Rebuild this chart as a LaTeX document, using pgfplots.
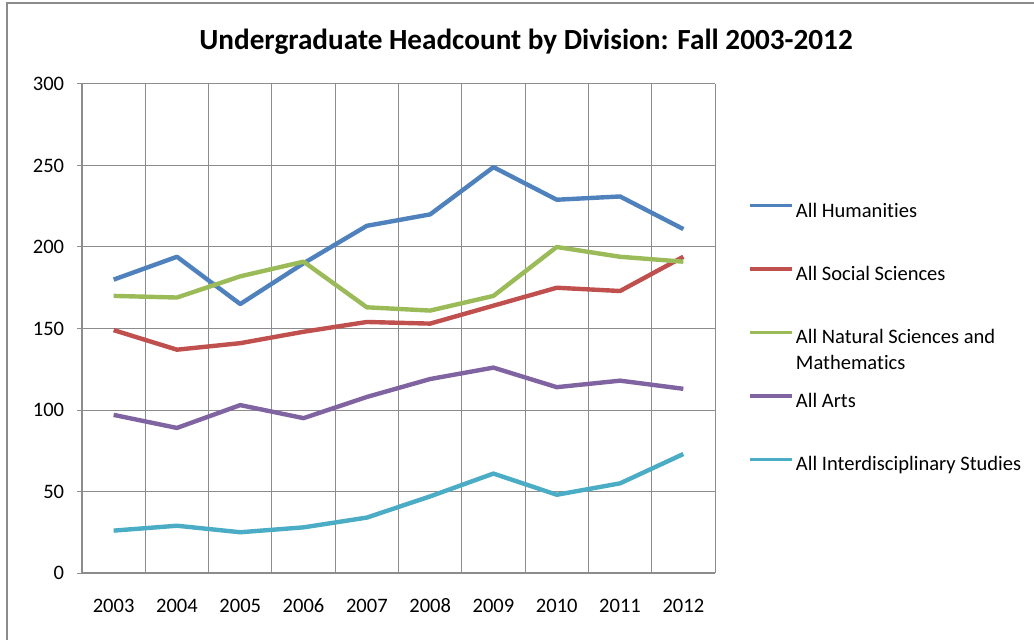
\documentclass[border=0pt]{standalone}
\usepackage{fontspec}
\setmainfont{Carlito}
\usepackage{pgfplots}
\pgfplotsset{compat=1.18}
\definecolor{cHum}{HTML}{4F81BD}
\definecolor{cSoc}{HTML}{C0504D}
\definecolor{cNat}{HTML}{9BBB59}
\definecolor{cArt}{HTML}{8064A2}
\definecolor{cInt}{HTML}{4BACC6}
\definecolor{gridc}{HTML}{8C8C8C}
\begin{document}
\begin{tikzpicture}
\useasboundingbox (0,0) rectangle (775.5pt,479.25pt);
\draw[gridc, line width=1.2pt] (5.25pt,-10pt) -- (5.25pt,477pt) -- (790pt,477pt);
\node[font=\fontsize{21.9}{25}\selectfont\bfseries, anchor=base] at (394.5pt,441.75pt) {Undergraduate Headcount by Division: Fall 2003-2012};
\begin{axis}[
  at={(61.5pt,49.5pt)}, anchor=south west,
  scale only axis, width=474.75pt, height=366.75pt,
  xmin=-0.5, xmax=9.5, ymin=0, ymax=300,
  xtick={0,...,9},
  xticklabels={2003,2004,2005,2006,2007,2008,2009,2010,2011,2012},
  minor xtick={-0.5,0.5,...,9.5},
  ytick={0,50,...,300},
  axis lines=left, axis line style={-, gridc, line width=1pt},
  xmajorgrids=false, xminorgrids=true, ymajorgrids=true,
  grid style={gridc, line width=0.75pt},
  minor grid style={gridc, line width=0.75pt},
  tick align=outside,
  major tick length=3.75pt, minor tick length=3.75pt,
  xtick style={draw=none},
  minor tick style={gridc, line width=0.75pt},
  ytick style={gridc, line width=0.75pt},
  tick label style={font=\fontsize{15.4}{18}\selectfont},
  /pgf/number format/assume math mode=true,
  xticklabel style={yshift=-12.5pt, text height=10pt, text depth=0pt},
  yticklabel style={xshift=-6.15pt},
  clip=false,
  legend cell align=left,
  legend image code/.code={\draw[#1, line width=2.5pt] (0pt,4.5pt) -- (32pt,4.5pt);},
  legend style={draw=none, fill=none, inner sep=0pt, outer sep=0pt,
    at={(1.0521,0.7607)}, anchor=north west,
    row sep=31.6pt, column sep=1.5pt,
    font=\fontsize{15.4}{18}\selectfont,
    nodes={inner sep=0pt, text height=12pt, text depth=4pt}},
  every axis plot/.append style={line width=3.3pt, line join=round, mark=none},
]
\addplot[cHum] coordinates {(0,180)(1,194)(2,165)(3,190)(4,213)(5,220)(6,249)(7,229)(8,231)(9,211)};
\addlegendentry{All Humanit\kern0pt ies}
\addplot[cSoc] coordinates {(0,149)(1,137)(2,141)(3,148)(4,154)(5,153)(6,164)(7,175)(8,173)(9,194)};
\addlegendentry{All Social Sciences}
\addplot[cNat] coordinates {(0,170)(1,169)(2,182)(3,191)(4,163)(5,161)(6,170)(7,200)(8,194)(9,191)};
\addlegendentry{\rlap{\raisebox{-19.5pt}[0pt][0pt]{Mathemat\kern0pt ics}}All Natural Sciences and}
\addplot[cArt] coordinates {(0,97)(1,89)(2,103)(3,95)(4,108)(5,119)(6,126)(7,114)(8,118)(9,113)};
\addlegendentry{All Arts}
\addplot[cInt] coordinates {(0,26)(1,29)(2,25)(3,28)(4,34)(5,47)(6,61)(7,48)(8,55)(9,73)};
\addlegendentry{All Interdisciplinary Studies}
\end{axis}
\end{tikzpicture}
\end{document}
